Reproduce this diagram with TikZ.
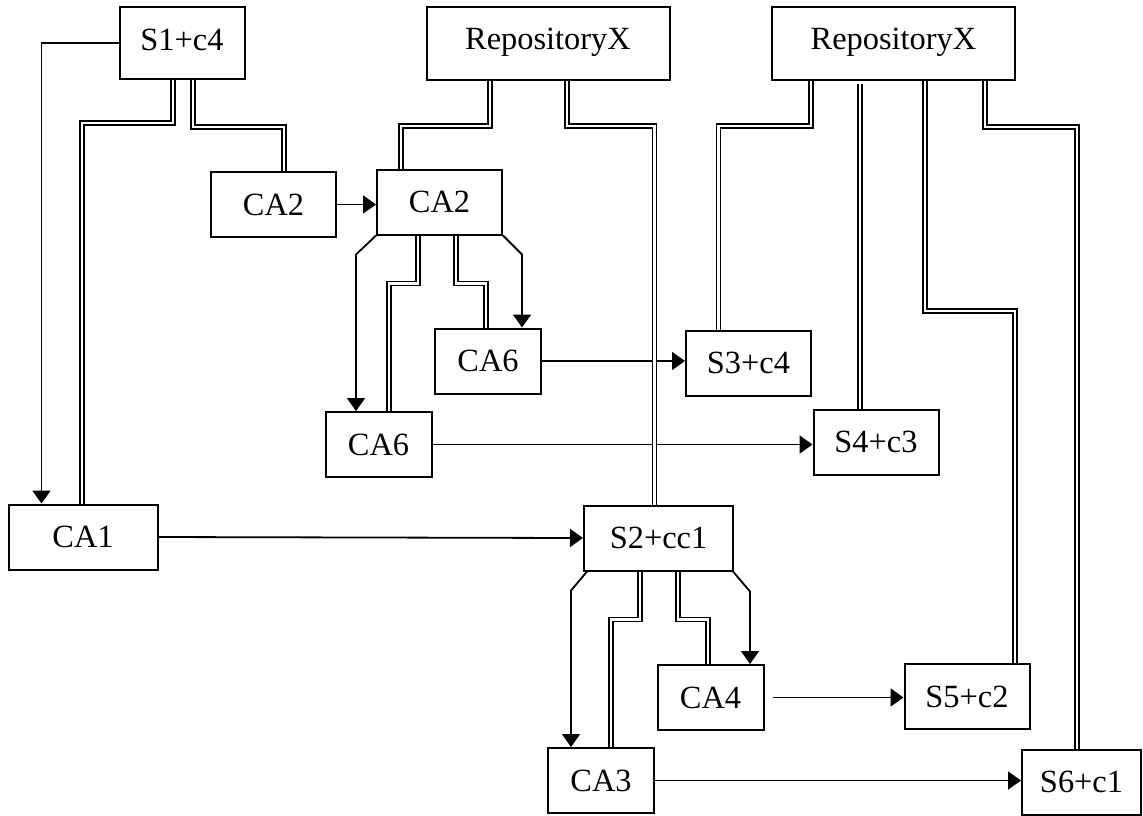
\documentclass[tikz,border=0pt]{standalone}
\usepackage{fontspec}
\setmainfont{Liberation Serif}
\usetikzlibrary{calc}
\usetikzlibrary{arrows.meta}
\tikzset{
    box/.style={draw, rectangle, line width=1pt, inner sep=0pt, minimum width=62.5pt, minimum height=32.5pt, font=\fontsize{16.2}{18}\selectfont},
    smallbox/.style={box, minimum width=53pt},
    longbox/.style={box, minimum width=74.5pt},
    repo/.style={box, minimum width=121.5pt, minimum height=36.5pt, text depth=5pt},
    flow/.style={line width=0.9pt, -{Triangle[length=6.5pt, width=9pt]}},
    link/.style={line width=0.75pt, double, double distance=1.2pt}
}
\begin{document}
\begin{tikzpicture}[x=0.5pt, y=-0.5pt]
      \useasboundingbox (0,0) rectangle (1143,815);

      \node[box, minimum height=36pt, text depth=3pt] (s1) at (182,43) {S1+c4};
      \node[repo] (repo-mid) at (548,43.5) {RepositoryX};
      \node[repo] (repo-right) at (893.5,43.5) {RepositoryX};
      \node[box] (ca2-left) at (273.5,204.5) {CA2};
      \node[box] (ca2-right) at (439.5,202) {CA2};
      \node[smallbox] (ca6-top) at (488,361) {CA6};
      \node[box] (s3) at (748.5,363) {S3+c4};
      \node[smallbox] (ca6-bottom) at (378.5,444.5) {CA6};
      \node[box] (s4) at (876,442) {S4+c3};
      \node[longbox] (ca1) at (83,537) {CA1};
      \node[longbox] (s2) at (658.5,538) {S2+cc1};
      \node[smallbox] (ca4) at (710.5,697.5) {CA4};
      \node[box] (s5) at (967,696.5) {S5+c2};
      \node[smallbox] (ca3) at (601,780.5) {CA3};
      \node[box, minimum width=59.5pt] (s6) at (1081.5,782) {S6+c1};

      \draw[flow] (s1.west) -| ($(ca1.north west)+(34,0)$);
      \draw[flow] (ca2-left.east) -- (ca2-left.east -| ca2-right.west);
      \draw[flow] (ca2-right.south west) -- ++(-20,19) coordinate (d1) -- (d1 |- ca6-bottom.north);
      \draw[flow] (ca2-right.south east) -- ++(19,19) coordinate (d2) -- (d2 |- ca6-top.north);
      \draw[flow] (ca6-top.east) -- (ca6-top.east -| s3.west);
      \draw[flow] (ca6-bottom.east) -- (ca6-bottom.east -| s4.west);
      \draw[flow] (ca1.east) -- (s2.west);
      \draw[flow] ($(s2.south west)+(4,0)$) -- ++(-16,19) coordinate (d3) -- (d3 |- ca3.north);
      \draw[flow] ($(s2.south east)+(-1,0)$) -- ++(17,20) coordinate (d4) -- (d4 |- ca4.north);
      \draw[flow] ($(ca4.east)+(8,0)$) -- (ca4.east -| s5.west);
      \draw[flow] (ca3.east) -- (ca3.east -| s6.west);

      \draw[link] ($(s1.south)+(-9,0)$) -- ++(0,43) -| ($(ca1.north)+(-1,0)$);
      \draw[link] ($(s1.south)+(11,0)$) -- ++(0,47) -| ($(ca2-left.north)+(10.5,0)$);
      \draw[link] ($(repo-mid.south)+(-58,0)$) -- ++(0,45) -| ($(ca2-right.north)+(-38.5,0)$);
      \draw[link] ($(repo-mid.south)+(19,0)$) -- ++(0,45) -| ($(s2.north)+(-4,0)$);
      \draw[link] ($(ca2-right.south)+(-21.5,0)$) -- ++(0,48) -| ($(ca6-bottom.north)+(10.5,0)$);
      \draw[link] ($(ca2-right.south)+(16.5,0)$) -- ++(0,48) -| ($(ca6-top.north)+(-2,0)$);
      \draw[link] ($(repo-right.south)+(-82.5,0)$) -- ++(0,45) -| ($(s3.north)+(-30,0)$);
      \draw[link] ($(repo-right.south)+(-33.5,3)$) coordinate (r3) -- (r3 |- s4.north);
      \draw[link] ($(repo-right.south)+(31.5,0)$) -- ++(0,230) -| ($(s5.north)+(48,0)$);
      \draw[link] ($(repo-right.south)+(91.5,0)$) -- ++(0,46) -| ($(s6.north)+(-4.5,0)$);
      \draw[link] ($(s2.south)+(-18.5,0)$) -- ++(0,48) -| ($(ca3.north)+(10,0)$);
      \draw[link] ($(s2.south)+(19.5,0)$) -- ++(0,48) -| ($(ca4.north)+(-2.5,0)$);
\end{tikzpicture}
\end{document}
